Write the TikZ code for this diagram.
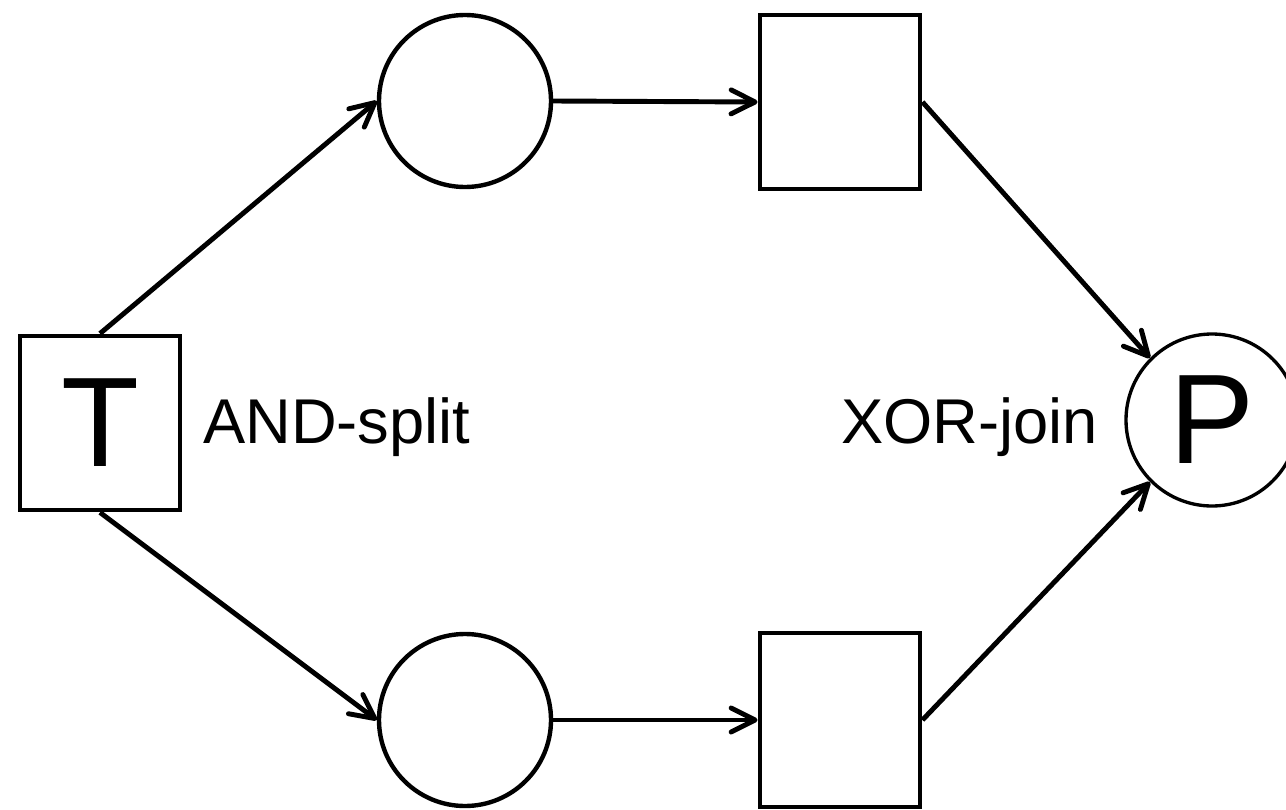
\documentclass[tikz,border=0pt]{standalone}
\usepackage{fontspec}
\setmainfont{Liberation Sans}
\usetikzlibrary{arrows.meta}

\begin{document}
\begin{tikzpicture}[
    trans/.style={draw, line width=2.8pt, minimum width=3.2cm, minimum height=3.48cm, inner sep=0pt},
    place/.style={draw, circle, line width=2.5pt, minimum size=3.44cm, inner sep=0pt},
    big/.style={font=\fontsize{72.6}{80}\selectfont},
    lbl/.style={font=\fontsize{36}{40}\selectfont, inner sep=0pt},
    arc/.style={line width=2.8pt, -{Straight Barb[length=4.8mm, width=4.8mm, round]}}]
  \useasboundingbox (0,0) rectangle (25.72,16.18);

  % AND-split transition
  \node[trans, big] (T) at (2.0,7.72) {T};
  \node[lbl, anchor=base west] (andlbl) at (4.06,7.32) {AND-split};

  % upper branch
  \node[place] (p1) at (9.3,14.16) {};
  \node[trans] (t1) at (16.8,14.14) {};

  % lower branch
  \node[place] (p2) at (9.3,1.78) {};
  \node[trans] (t2) at (16.8,1.78) {};

  % XOR-join place
  \node[place, big, line width=1.9pt] (P) at (24.24,7.78) {P};
  \node[lbl, anchor=base east] (xorlbl) at (21.96,7.32) {XOR-join};

  % arcs
  \draw[arc] (T.north) -- (p1.west);
  \draw[arc] (T.south) -- (p2.west);
  \draw[arc] (p1.east) -- (t1.west);
  \draw[arc] (p2.east) -- (t2.west);
  \draw[arc] (t1.east) -- (P.135);
  \draw[arc] (t2.east) -- (P.225);
\end{tikzpicture}
\end{document}
